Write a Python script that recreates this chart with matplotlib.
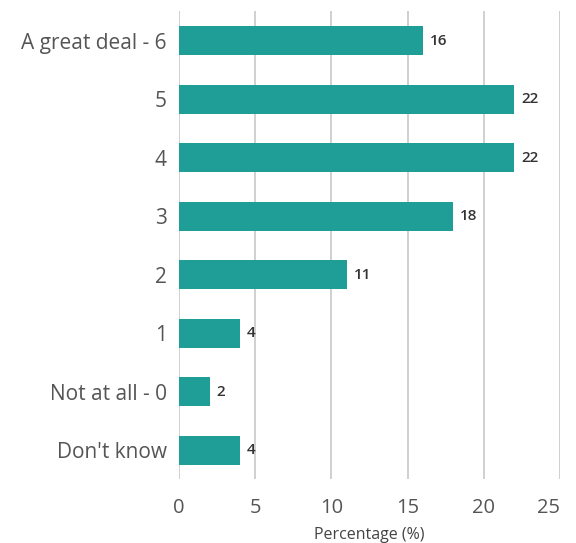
import matplotlib.pyplot as plt

categories = ["A great deal - 6", "5", "4", "3", "2", "1", "Not at all - 0", "Don't know"]
values = [16, 22, 22, 18, 11, 4, 2, 4]
xticks = [0, 5, 10, 15, 20, 25]

BAR_COLOR = "#1f9e98"
plt.rcParams["font.family"] = ["Open Sans", "DejaVu Sans"]


def main():
    fig = plt.figure(figsize=(5.76, 5.43), dpi=100)
    ax = fig.add_axes([0.311, 0.117, 0.661, 0.862])

    y = list(range(len(categories)))
    ax.barh(y, values, height=0.5, color=BAR_COLOR, zorder=3)
    for yi, v in zip(y, values):
        ax.text(v + 0.45, yi, str(v), va="center", ha="left",
                fontsize=11, color="#333333", fontweight="semibold")

    ax.set_ylim(len(categories) - 0.5, -0.5)
    ax.set_xlim(0, 25)
    ax.set_yticks(y)
    ax.set_yticklabels(categories, fontsize=15, color="#555555")
    ax.set_xticks(xticks)
    ax.set_xticklabels([str(t) for t in xticks], fontsize=14.5, color="#555555")
    # last label is pulled inside the figure, as in the original
    ax.get_xticklabels()[-1].set_horizontalalignment("right")
    ax.tick_params(axis="y", length=0, pad=9)
    ax.tick_params(axis="x", length=0, pad=13)

    ax.grid(axis="x", color="#c8c8c8", linewidth=1.2, zorder=0)
    for s in ax.spines.values():
        s.set_visible(False)
    ax.set_xlabel("Percentage (%)", fontsize=11.5, color="#444444", labelpad=7)

    fig.savefig("out.png", dpi=100)
    plt.close(fig)


if __name__ == "__main__":
    main()
